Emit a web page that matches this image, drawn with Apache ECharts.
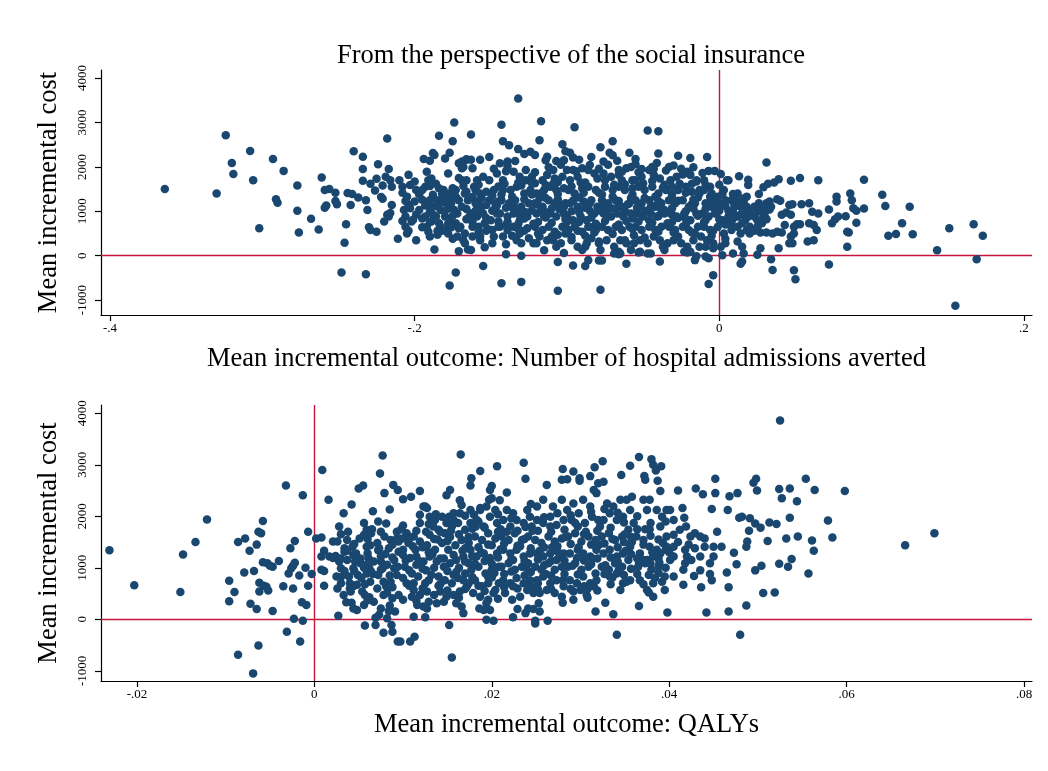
<!DOCTYPE html>
<html>
<head>
<meta charset="utf-8">
<script src="https://cdn.jsdelivr.net/npm/echarts@6/dist/echarts.min.js"></script>
<style>html,body{margin:0;padding:0;background:#fff}#chart{width:1048px;height:771px}</style>
</head>
<body>
<div id="chart"></div>
<script>
// ---- Tick values ----
var topXTicks = [-0.4, -0.2, 0, 0.2];
var costTicks = [-1000, 0, 1000, 2000, 3000, 4000];
var botXTicks = [-0.02, 0, 0.02, 0.04, 0.06, 0.08];

// ---- Texts ----
var titleText = 'From the perspective of the social insurance';
var yName = 'Mean incremental cost';
var topXName = 'Mean incremental outcome: Number of hospital admissions averted';
var botXName = 'Mean incremental outcome: QALYs';

// ---- Top panel: [incremental hospital admissions averted, incremental cost] ----
var topCloud = [
[-.364,1500],[-.330,1400],[-.324,2710],[-.320,2090],[-.319,1840],[-.308,2360],[-.306,1700],[-.302,620],[-.293,2180],[-.291,1270],[-.290,1190],[-.286,1910],[-.277,1580],[-.277,1010],[-.276,520],[-.268,830],[-.263,590],[-.261,1760],[-.259,1480],[-.256,1500],[-.258,1130],[-.259,1080],[-.252,1230],[-.251,1160],[-.252,1420],[-.248,-380],[-.246,290],[-.245,710],[-.244,1410],[-.241,1390],[-.242,1140],[-.240,2350],[-.237,1310],[-.234,2230],[-.234,1950],[-.234,1690],[-.232,-420],[-.232,1250],[-.231,1030],[-.230,640],[-.229,580],[-.229,1620],[-.226,1470],[-.225,1730],[-.224,2060],[-.225,540],[-.222,1320],[-.221,1280],[-.221,1580],[-.220,770],[-.218,920],[-.218,2640],[-.219,1780],[-.217,1950],[-.216,1700],[-.215,1550],[-.215,1140],[-.217,880],[-.216,960],[-.211,380],
[-.132,3540],[-.174,3000],[-.143,2950],[-.117,3030],[-.095,2890],[-.047,2820],[-.040,2800],[-.184,2700],[-.175,2580],[-.163,2730],[-.142,2580],[-.138,2490],[-.118,2600],[-.103,2510],[-.078,2440],[-.070,2580],[-.072,2320],[-.070,2260],[-.059,2320],[-.040,2300],[-.027,2250],[-.019,2200],[-.008,2220],[-.188,2310],[-.187,2270],[-.194,2180],[-.190,2140],[-.180,2190],[-.177,2320],[-.101,2350],[-.098,2320],[-.096,2210],[-.132,2400],[-.128,2290],[-.124,2340],[-.121,2270],[-.114,2150],[-.107,2130],[-.102,2150],[-.084,2220],[-.076,2120],[-.055,2060],[-.157,2160],[-.151,2220],[-.044,2000],[-.043,1960],[-.033,2000],[-.021,1890],[-.024,1830],[-.015,1670],[-.007,1910],[-.003,1910],[.001,1840],[.005,1700],[-.169,2120],[-.166,2170],
[-.177,-670],[-.173,-380],[-.155,-230],[-.143,-620],[-.130,-590],[-.106,-140],[-.106,-790],[-.096,-220],[-.088,-230],[-.086,-100],[-.079,-110],[-.077,-110],[-.078,-770],[-.061,-180],[-.039,-130],[-.016,-100],[-.015,-10],[-.007,-60],[-.004,-440],[-.007,-640],[.002,10],
[-.187,140],[-.171,100],[-.165,140],[-.154,190],[-.140,260],[-.140,30],[-.130,0],[-.115,120],[-.102,60],[-.088,200],[-.066,30],[-.065,50],[-.053,70],[-.047,50],[-.037,200],[-.023,90],[-.021,70],[-.009,-20],
[-.210,1700],[-.208,1550],[-.203,1590],[-.200,1670],[-.205,1330],[-.207,1030],[-.206,880],[-.200,1220],[-.203,1070],[-.197,1030],[-.206,650],[-.205,500],[-.202,770],[-.195,840],[-.193,880],[-.192,650],[-.191,540],[-.190,430],[-.193,1550],[-.191,1700],[-.192,1890],[-.189,1740],[-.188,1370],[-.188,1100],[-.189,770],
[-.185,1250],[-.183,1030],[-.181,1330],[-.179,1180],[-.177,1290],[-.174,1030],[-.172,950],[-.180,880],[-.177,800],[-.173,730],[-.170,650],[-.167,500],[-.172,430],[-.179,580],[-.183,650],[-.185,470],[-.181,1480],[-.173,1480],[-.169,1700],[-.168,2000],[-.171,2080],[-.166,2160],[-.169,1970],[-.166,1700],[-.177,1400],[-.167,1400],[-.184,730],[-.168,350],[-.167,280],[-.178,500],
[-.163,2160],[-.162,1970],[-.159,1700],[-.155,1780],[-.151,1700],[-.146,1850],[-.161,1550],[-.157,1400],[-.153,1440],[-.148,1480],[-.165,1250],[-.160,1180],[-.156,1100],[-.151,1250],[-.147,1180],[-.163,950],[-.159,880],[-.155,950],[-.150,800],[-.146,950],[-.162,650],[-.158,650],[-.154,730],[-.149,580],[-.145,650],[-.157,430],[-.157,350],[-.148,430],[-.163,130],
[-.144,2080],[-.139,2120],[-.135,1890],[-.131,1780],[-.127,1700],[-.123,1780],[-.142,1700],[-.142,1480],[-.137,1480],[-.133,1550],[-.128,1400],[-.124,1480],[-.143,1250],[-.138,1180],[-.134,1250],[-.130,1100],[-.125,1180],[-.144,950],[-.139,880],[-.135,950],[-.131,800],[-.126,880],[-.144,650],[-.139,580],[-.135,650],[-.131,500],[-.126,620],[-.142,430],[-.133,350],[-.130,280],[-.125,390],[-.122,280],
[-.121,1630],[-.116,1700],[-.113,1820],[-.108,1740],[-.103,1780],[-.120,1400],[-.115,1480],[-.111,1550],[-.107,1480],[-.102,1520],[-.121,1180],[-.116,1100],[-.112,1250],[-.108,1180],[-.103,1140],[-.120,950],[-.115,880],[-.111,950],[-.107,880],[-.102,950],[-.121,650],[-.116,580],[-.112,650],[-.108,540],[-.103,650],[-.118,430],[-.113,350],[-.109,350],[-.104,280],[-.120,280],[-.100,1930],[-.109,1930],[-.107,200],[-.101,500],
[-.098,1700],[-.093,1780],[-.090,1970],[-.086,1930],[-.082,1850],[-.080,1740],[-.099,1480],[-.095,1400],[-.090,1520],[-.086,1550],[-.081,1480],[-.098,1180],[-.093,1100],[-.089,1220],[-.085,1180],[-.080,1100],[-.100,880],[-.096,800],[-.091,880],[-.087,800],[-.082,950],[-.099,580],[-.095,650],[-.090,540],[-.086,650],[-.081,580],[-.097,350],[-.093,200],[-.087,280],[-.084,390],[-.079,280],[-.090,130],[-.078,130],[-.096,1930],
[-.076,1850],[-.071,1780],[-.066,1930],[-.061,1970],[-.057,1700],[-.075,1550],[-.070,1480],[-.066,1550],[-.062,1480],[-.057,1520],[-.077,1250],[-.073,1180],[-.068,1250],[-.064,1100],[-.059,1180],[-.076,950],[-.071,880],[-.067,950],[-.063,880],[-.058,950],[-.077,650],[-.073,580],[-.068,650],[-.064,580],[-.059,650],[-.074,350],[-.069,200],[-.065,350],[-.061,280],[-.056,280],[-.066,90],[-.058,130],[-.069,50],
[-.055,1700],[-.051,1780],[-.046,1930],[-.043,1820],[-.039,1740],[-.053,1550],[-.049,1480],[-.044,1550],[-.040,1400],[-.035,1480],[-.055,1250],[-.051,1180],[-.046,1250],[-.042,1100],[-.038,1180],[-.054,950],[-.050,880],[-.045,950],[-.041,880],[-.036,950],[-.055,650],[-.051,580],[-.046,650],[-.042,580],[-.038,650],[-.052,350],[-.047,280],[-.043,430],[-.039,350],[-.034,280],[-.036,130],[-.052,90],[-.045,50],
[-.032,1700],[-.028,1780],[-.023,1850],[-.019,1820],[-.015,1700],[-.031,1550],[-.027,1480],[-.022,1550],[-.018,1440],[-.013,1480],[-.033,1250],[-.029,1180],[-.024,1250],[-.020,1100],[-.016,1180],[-.032,950],[-.028,880],[-.023,950],[-.019,800],[-.015,950],[-.033,650],[-.029,580],[-.024,650],[-.020,580],[-.016,500],[-.030,350],[-.025,280],[-.021,200],[-.017,350],[-.012,430],[-.019,90],[-.013,200],
[-.010,1480],[-.006,1550],[-.001,1330],[.003,1480],[.006,1700],[-.009,1180],[-.005,1100],[.000,1180],[.004,1250],[-.011,950],[-.007,880],[-.003,950],[.002,800],[.006,880],[-.010,650],[-.006,580],[-.001,650],[.003,500],[.006,730],[-.008,350],[-.004,280],[.001,200],[-.009,200],[.004,280],[-.004,170],
[.031,2100],[.013,1790],[.019,1710],[.019,1590],[.029,1540],[.032,1620],[.036,1650],[.039,1720],[.047,1690],[.053,1750],[.065,1700],[.095,1710],[.026,1390],[.009,1390],[.012,1400],[.023,1100],[.016,1220],[.014,1100],[.017,950],[.033,1040],[.038,1270],[.040,1240],[.046,1140],[.048,1160],[.054,1160],[.059,1180],[.044,970],[.041,920],[.047,920],[.029,880],[.031,820],[.028,730],[.025,800],[.020,650],[.018,580],[.023,560],[.027,520],[.031,520],[.035,500],[.038,540],[.041,520],[.043,690],[.049,650],[.051,710],[.053,710],[.049,500],[.047,430],[.048,280],[.046,280],[.059,730],[.062,690],[.064,580],[.061,990],[.065,950],[.058,320],[.062,350],[.039,170],[.027,170],[.025,20],[.016,50],[.014,-180],[.015,-130],[.034,-80],[.035,-320],[.049,-330],[.050,-530],[.072,-200],[.072,1040],[.077,1330],[.077,1220],[.074,730],[.076,820],[.078,880],[.083,890],[.084,540],[.085,520],[.084,200],[.086,1400],[.087,1250],[.088,1070],[.090,1010],[.090,740],[.095,1060],[.107,1370],[.109,1120],[.111,450],[.116,490],[.120,730],[.125,1100],[.127,480],[.143,120],[.151,620],[.155,-1130],[.167,710],[.169,-80],[.173,450],
[.008,1250],[.010,1330],[.013,1220],[.015,1180],[.016,1290],[.018,1100],[.020,990],[.009,840],[.008,730],[.012,650],[.015,730],[.017,800],[.019,880],[.023,880],[.025,990],[.027,1070],[.029,1100],[.031,1180],[.033,1220],[.030,990],[.025,650],[.020,500],[.014,500],[.008,580],[.012,320],[.015,200],[.009,50],[.010,1100],[.012,880],[.009,990]
];
// denser core of the top cloud
var topCore = [
[-.208,1420],[-.208,780],[-.204,1150],[-.204,560],[-.204,1820],[-.199,1480],[-.199,930],[-.199,350],[-.195,1260],[-.195,640],[-.190,1570],[-.190,990],[-.190,760],[-.186,1120],[-.186,880],[-.186,1620],[-.182,1390],[-.182,1210],[-.182,560],[-.178,1060],[-.178,720],[-.178,1850],[-.175,1520],[-.175,900],[-.175,380],[-.171,1250],[-.171,620],[-.171,1750],[-.166,1440],[-.166,1050],[-.166,820],[-.162,1320],[-.162,760],[-.162,430],[-.158,1600],[-.158,1020],[-.158,1230],[-.153,1140],[-.153,850],[-.153,560],[-.149,1350],[-.149,1010],[-.149,280],[-.145,1560],[-.145,1220],[-.145,770],[-.140,1080],[-.140,690],[-.140,1900],[-.136,1330],[-.136,1090],[-.136,450],[-.132,1640],[-.132,1000],[-.132,710],[-.128,1270],[-.128,840],[-.128,560],[-.123,1380],[-.123,1020],[-.123,1630],[-.119,1150],[-.119,760],[-.119,500],[-.114,1590],[-.114,1300],[-.114,980],[-.110,1060],[-.110,740],[-.110,430],[-.106,1390],[-.106,1270],[-.106,1660],[-.101,1180],[-.101,820],[-.101,620],[-.097,1560],[-.097,1000],[-.097,420],[-.092,1310],[-.092,980],[-.092,760],[-.088,1650],[-.088,1080],[-.088,450],[-.084,1250],[-.084,860],[-.084,640],[-.079,1420],[-.079,1020],[-.079,320],[-.075,1130],[-.075,780],[-.075,1700],[-.070,1330],[-.070,1060],[-.070,490],[-.066,1230],[-.066,700],[-.066,1820],[-.062,1610],[-.062,1010],[-.062,350],[-.057,1380],[-.057,840],[-.057,600],[-.053,1090],[-.053,770],[-.053,1880],[-.049,1300],[-.049,1010],[-.049,410],[-.044,1680],[-.044,1120],[-.044,740],[-.040,1230],[-.040,890],[-.040,540],[-.036,1600],[-.036,1030],[-.036,220],[-.031,1380],[-.031,1070],[-.031,760],[-.027,1240],[-.027,850],[-.027,430],[-.022,1420],[-.022,1000],[-.022,700],[-.018,1620],[-.018,1160],[-.018,520],[-.014,1310],[-.014,900],[-.014,650],[-.009,1050],[-.009,800],[-.009,1600],[-.005,1400],[-.005,1230],[-.005,450],[.000,1010],[.000,820],[.000,1600],[.004,1120],[.004,700],[.004,380],
[-.148,1960],[-.139,2010],[-.127,1930],[-.121,1880],[-.112,1990],[-.104,2050],[-.094,1900],[-.085,2040],[-.079,1960],[-.073,2050],[-.064,1890],[-.058,2000],[-.051,1950],[-.041,2090],[-.035,1920],[-.030,2030],[-.025,1960],[-.017,1990],[-.011,1860],[-.092,2160],[-.067,2140],[-.113,2230],[-.134,2130],[-.055,2180]
];
var topCore2 = [
[-.206,1230],[-.201,810],[-.197,1380],[-.193,1130],[-.188,930],[-.184,1520],[-.180,1020],[-.176,640],[-.173,1330],[-.169,1100],[-.164,880],[-.160,1480],[-.156,1300],[-.152,600],[-.147,1080],[-.143,1380],[-.139,760],[-.135,1150],[-.130,1580],[-.127,980],[-.122,720],[-.118,1300],[-.114,860],[-.109,1620],[-.105,1050],[-.100,760],[-.096,1240],[-.093,560],[-.089,1420],[-.085,1010],[-.081,720],[-.077,1380],[-.073,880],[-.069,1600],[-.066,1120],[-.061,780],[-.058,1300],[-.054,1080],[-.050,1630],[-.046,800],[-.042,1330],[-.038,1020],[-.034,730],[-.030,1240],[-.026,1620],[-.022,830],[-.017,1060],[-.013,1400],[-.010,760],[-.006,1330],[-.002,1040],[.002,1380],[.006,1010],[.010,1160],[.014,930],[.018,1330],[.022,1000],[.026,1180],[.030,870],[.034,1100],
[-.190,1250],[-.176,1180],[-.160,1010],[-.146,1130],[-.131,930],[-.117,1020],[-.102,1100],[-.088,1170],[-.074,1000],[-.060,1160],[-.045,1100],[-.031,930],[-.017,1260],[-.003,1150],
[-.195,1480],[-.168,1570],[-.141,1620],[-.116,1430],[-.091,1650],[-.064,1700],[-.037,1530],[-.010,1700],
[-.185,560],[-.158,540],[-.132,600],[-.106,470],[-.082,520],[-.056,460],[-.030,520],[-.004,560]
];

// ---- Bottom panel: [incremental QALYs, incremental cost] ----
var bottomCloud = [
[-.0231,1340],[-.0203,660],[-.0151,530],[-.0148,1260],[-.0134,1500],[-.0121,1940],[-.0096,750],[-.0096,350],[-.0090,530],[-.0086,1500],[-.0086,-690],[-.0079,910],[-.0078,1570],[-.0073,1330],[-.0072,300],[-.0069,-1050],[-.0068,940],[-.0065,1450],[-.0065,200],[-.0063,-510],[-.0063,1700],[-.0060,1670],[-.0062,710],[-.0062,540],[-.0058,1910],[-.0058,1110],[-.0053,1090],[-.0050,1040],[-.0057,650],[-.0054,630],[-.0052,560],[-.0047,160],[-.0047,1020],[-.0040,1130],[-.0035,640],[-.0032,2600],[-.0031,-240],[-.0029,890],[-.0026,990],[-.0027,1380],[-.0024,600],[-.0023,10],[-.0022,1520],[-.0022,1100],[-.0024,1040],[-.0017,850],[-.0016,-430],[-.0014,330],[-.0009,280],[-.0013,-30],[-.0013,2410],[-.0010,1000],[-.0007,650],[-.0007,1700],[-.0003,880],[.0002,1570],[.0008,1590],[.0009,2900],[.0008,1220],[.0011,1330],[.0008,960],[.0011,940],[.0011,650],[.0016,2320],[.0017,1220],[.0021,1190],[.0021,1510],[.0024,1230],[.0025,830],[.0027,70],[.0028,1800],[.0030,700],[.0033,2060],[.0030,990],[.0034,940],[.0034,1380],[.0037,1540],[.0038,1700],[.0039,830],[.0040,700],[.0040,600],[.0036,330],[.0042,320],[.0042,2230],[.0044,1250],[.0047,1280],[.0046,1120],[.0048,180],[.0049,860],[.0053,800],[.0050,2540],[.0055,2600],[.0056,1870],[.0057,470],[.0057,680],[.0057,-120],[.0059,1410],[.0063,1440],[.0061,1190],[.0059,1740],[.0065,1750],[.0062,430],[.0066,2100],[.0069,30],[.0073,90],[.0069,-110],[.0075,1700],[.0077,3180],[.0074,2830],[.0079,2450],[.0078,-260],[.0081,1860],[.0085,2130],[.0087,-110],[.0088,-240],[.0089,2610],[.0094,2510],[.0094,-430],
[.0062,990],[.0059,890],[.0064,930],[.0073,1380],[.0075,1220],[.0075,1120],[.0077,990],[.0078,730],[.0081,640],[.0082,510],[.0085,270],[.0084,160],[.0093,1570],[.0095,1510],
[.0026,1510],[.0034,1310],[.0043,1410],[.0051,1570],[.0056,1640],[.0064,1670],[.0071,1480],[.0079,1610],[.0086,1540],[.0093,1700],[.0028,1120],[.0037,1150],[.0044,990],[.0052,1090],[.0059,1060],[.0067,1120],[.0075,960],[.0082,1060],[.0090,1150],[.0095,1310],[.0026,600],[.0033,470],[.0041,540],[.0048,670],[.0054,540],[.0063,730],[.0071,600],[.0078,470],[.0086,730],[.0093,860],[.0044,210],[.0056,280],[.0067,340],[.0075,210],[.0088,410],[.0091,150],[.0082,20],[.0095,470],[.0090,990],[.0084,1380],
[.0165,3200],[.0236,3040],[.0238,2730],[.0206,2970],[.0187,2880],[.0177,2740],[.0176,2600],[.0149,2410],[.0153,2510],[.0119,2490],[.0109,2380],[.0100,2330],[.0280,2920],[.0292,2870],[.0279,2710],[.0285,2720],[.0299,2740],[.0299,2690],[.0311,2780],[.0316,2950],[.0325,3070],[.0262,2610],[.0320,2640],[.0326,2670],[.0346,2800],[.0356,2980],[.0366,3150],[.0372,2780],[.0373,2710],[.0380,3110],[.0382,3000],[.0385,2890],[.0391,2970],[.0387,2690],[.0390,2490],[.0410,2500],[.0430,2540],[.0438,2430],[.0452,2730],[.0452,2450],[.0448,2140],[.0217,2460],[.0200,2590],[.0198,2510],[.0164,2310],[.0166,2220],[.0197,2320],[.0200,2350],[.0209,2310],[.0187,2160],[.0176,2120],[.0180,2030],[.0123,2190],[.0127,2160],[.0119,2030],[.0137,2040],[.0152,1990],[.0153,1930],
[.0152,-110],[.0155,-740],[.0341,-300],[.0097,-430],[.0108,-430],[.0113,-340],[.0112,50],[.0125,40],[.0127,210],[.0116,280],[.0168,120],[.0194,-10],[.0202,-30],[.0186,210],[.0191,180],[.0198,180],[.0196,380],[.0224,40],[.0229,200],[.0238,120],[.0241,210],[.0247,200],[.0249,-30],[.0249,-80],[.0254,150],[.0263,-30],[.0253,310],[.0280,320],[.0292,380],[.0308,420],[.0317,150],[.0328,320],[.0337,100],[.0366,260],[.0398,130],[.0442,130],[.0377,520],[.0382,440],[.0395,570],[.0416,670],[.0436,620],[.0428,840],[.0435,950],[.0446,880],[.0448,760],
[.0099,1570],[.0104,1670],[.0112,1610],[.0119,1510],[.0127,1440],[.0130,1640],[.0100,1350],[.0108,1190],[.0115,1220],[.0123,1120],[.0130,1220],[.0102,1020],[.0110,890],[.0117,830],[.0125,700],[.0132,860],[.0104,700],[.0112,570],[.0119,470],[.0127,540],[.0100,380],[.0110,440],[.0123,250],[.0129,340],[.0119,1870],[.0125,2190],[.0130,1990],[.0134,1800],[.0114,1350],[.0106,1480],
[.0136,1350],[.0144,1480],[.0151,1350],[.0159,1440],[.0166,1540],[.0138,1120],[.0146,1020],[.0153,1090],[.0160,1150],[.0168,1220],[.0140,830],[.0147,760],[.0155,700],[.0162,800],[.0170,890],[.0142,540],[.0149,440],[.0157,470],[.0164,540],[.0172,640],[.0138,310],[.0146,340],[.0160,310],[.0166,250],[.0140,1740],[.0147,1670],[.0155,1800],[.0162,1870],[.0170,1740],[.0157,2060],[.0164,2060],[.0149,1870],[.0136,1930],[.0144,1990],
[.0174,1480],[.0181,1610],[.0189,1540],[.0196,1670],[.0204,1570],[.0176,1350],[.0183,1220],[.0191,1280],[.0198,1190],[.0206,1280],[.0177,960],[.0185,1020],[.0193,890],[.0200,960],[.0208,1020],[.0174,700],[.0181,760],[.0189,640],[.0196,700],[.0204,570],[.0179,510],[.0187,440],[.0194,310],[.0202,510],[.0176,1870],[.0183,1930],[.0191,1800],[.0198,1990],[.0206,1870],[.0187,2120],[.0194,2190],[.0204,2120],[.0208,700],[.0174,1090],
[.0211,1610],[.0219,1540],[.0226,1670],[.0234,1540],[.0241,1610],[.0213,1350],[.0221,1280],[.0228,1350],[.0236,1220],[.0243,1280],[.0211,1020],[.0219,1090],[.0226,960],[.0234,1020],[.0241,1090],[.0213,760],[.0221,700],[.0228,800],[.0236,700],[.0243,760],[.0215,510],[.0223,380],[.0232,440],[.0240,570],[.0247,510],[.0213,1930],[.0221,1800],[.0228,1930],[.0236,1870],[.0243,1990],[.0224,2060],[.0240,2120],[.0245,1800],[.0217,2120],
[.0249,1540],[.0256,1480],[.0264,1610],[.0271,1510],[.0279,1570],[.0251,1280],[.0258,1220],[.0266,1280],[.0273,1150],[.0281,1280],[.0249,1020],[.0256,960],[.0264,1090],[.0271,960],[.0279,1020],[.0251,760],[.0258,830],[.0266,700],[.0273,760],[.0281,640],[.0254,510],[.0262,570],[.0271,510],[.0279,440],[.0251,1930],[.0258,1870],[.0266,1990],[.0273,1830],[.0281,1930],[.0251,2190],[.0258,2320],[.0269,2190],[.0279,2320],[.0285,2120],
[.0286,1610],[.0294,1670],[.0301,1510],[.0309,1610],[.0317,1540],[.0288,1280],[.0296,1190],[.0303,1280],[.0311,1220],[.0318,1350],[.0286,1020],[.0294,1090],[.0301,960],[.0309,1020],[.0317,890],[.0288,760],[.0296,700],[.0303,830],[.0311,700],[.0318,760],[.0292,540],[.0300,570],[.0307,470],[.0315,640],[.0290,1930],[.0298,2060],[.0305,1870],[.0313,1990],[.0320,1930],[.0292,2250],[.0303,2320],[.0311,2190],[.0318,2450],[.0315,2510],
[.0324,1610],[.0332,1670],[.0339,1540],[.0347,1610],[.0354,1740],[.0326,1280],[.0333,1350],[.0341,1220],[.0348,1280],[.0356,1410],[.0324,1020],[.0332,960],[.0339,1090],[.0347,1020],[.0354,1150],[.0333,830],[.0341,890],[.0348,700],[.0356,760],[.0345,570],[.0352,730],[.0326,1930],[.0333,2060],[.0341,1930],[.0348,1990],[.0356,2120],[.0330,2250],[.0337,2190],[.0345,2320],[.0352,2320],[.0358,2380],[.0360,1870],
[.0363,1610],[.0371,1540],[.0378,1410],[.0386,1350],[.0393,1480],[.0367,1280],[.0375,1150],[.0382,1220],[.0390,1280],[.0365,1020],[.0373,1090],[.0380,960],[.0388,1020],[.0395,830],[.0367,760],[.0375,570],[.0382,700],[.0392,730],[.0375,2120],[.0378,2320],[.0371,2320],[.0386,2120],[.0392,1990],[.0390,1800],[.0397,2120],[.0377,860],[.0384,800],
[.0401,2120],[.0405,1930],[.0415,2160],[.0417,1970],[.0419,1800],[.0397,1610],[.0405,1640],[.0412,1740],[.0424,1610],[.0429,1670],[.0435,1610],[.0440,1570],[.0454,1700],[.0397,1410],[.0405,1410],[.0418,1350],[.0420,1220],[.0429,1380],[.0440,1410],[.0450,1410],[.0401,1150],[.0405,1220],[.0418,1090],[.0425,1150],[.0435,1220],[.0446,1090],[.0450,1220],[.0405,830],[.0416,960],
[.0525,3860],[.0495,2650],[.0498,2730],[.0499,2500],[.0468,2390],[.0477,2450],[.0524,2530],[.0536,2540],[.0527,2350],[.0544,2290],[.0554,2730],[.0564,2510],[.0598,2490],[.0466,2120],[.0479,1970],[.0482,1990],[.0491,1960],[.0497,1860],[.0503,1780],[.0513,1880],[.0521,1850],[.0536,1970],[.0579,1920],[.0490,1720],[.0488,1510],[.0487,1410],[.0511,1520],[.0532,1570],[.0545,1610],[.0561,1530],[.0563,1330],[.0584,1590],[.0666,1440],[.0699,1670],[.0473,1290],[.0476,1070],[.0465,910],[.0467,620],[.0467,150],[.0487,270],[.0480,-300],[.0497,950],[.0504,1040],[.0506,510],[.0519,520],[.0524,1080],[.0534,1020],[.0538,1170],[.0557,890],[.0459,1410]
];
// denser core of the bottom cloud
var bottomCore = [
[.0030,1650],[.0030,1180],[.0030,820],[.0045,1460],[.0045,940],[.0045,650],[.0060,1560],[.0060,1280],[.0060,370],[.0072,1340],[.0072,860],[.0072,1900],[.0088,1450],[.0088,1200],[.0088,620],[.0100,1820],[.0100,1250],[.0100,800],[.0107,1560],[.0107,950],[.0107,650],[.0115,1720],[.0115,1060],[.0115,360],[.0122,1400],[.0122,980],[.0122,600],[.0129,1850],[.0129,1300],[.0129,760],[.0135,1560],[.0135,1000],[.0135,470],[.0142,1700],[.0142,1180],[.0142,680],[.0150,1520],[.0150,940],[.0150,560],[.0157,1930],[.0157,1250],[.0157,860],[.0163,1650],[.0163,1000],[.0163,420],[.0170,2010],[.0170,1380],[.0170,1120],[.0170,590],[.0178,1760],[.0178,1230],[.0178,820],[.0185,1900],[.0185,1400],[.0185,650],[.0192,1780],[.0192,1130],[.0192,550],[.0200,1440],[.0200,1080],[.0200,810],[.0207,2040],[.0207,1700],[.0207,1200],[.0207,400],[.0214,1470],[.0214,880],[.0214,620],[.0222,1960],[.0222,1160],[.0222,930],[.0229,1720],[.0229,1430],[.0229,600],[.0237,1560],[.0237,1130],[.0237,850],[.0244,2240],[.0244,1380],[.0244,920],[.0244,640],[.0252,1720],[.0252,1160],[.0252,590],[.0259,1980],[.0259,1400],[.0259,1050],[.0267,1700],[.0267,1130],[.0267,850],[.0267,590],[.0274,2060],[.0274,1420],[.0274,1320],[.0282,1740],[.0282,1140],[.0282,880],[.0289,2020],[.0289,1460],[.0289,590],[.0297,1800],[.0297,1350],[.0297,870],[.0304,1650],[.0304,1140],[.0304,640],[.0312,2090],[.0312,1450],[.0312,1070],[.0319,1720],[.0319,1180],[.0319,560],[.0327,2140],[.0327,1470],[.0327,880],[.0334,1780],[.0334,1200],[.0334,680],[.0342,2070],[.0342,1400],[.0342,1120],[.0349,1880],[.0349,1500],[.0349,860],[.0357,1600],[.0357,1270],[.0357,980],[.0364,2000],[.0364,1750],[.0364,1180],[.0371,1450],[.0371,1150],[.0371,680],[.0379,1870],[.0379,1620],[.0379,1080],[.0388,1550],[.0388,1180],[.0388,900],[.0396,1900],[.0396,1350],[.0396,1000]
];
var bottomCore2 = [
[.0037,1330],[.0052,1180],[.0066,880],[.0080,1270],[.0094,1020],[.0103,1140],[.0111,1420],[.0118,1130],[.0126,950],[.0133,1260],[.0139,1550],[.0146,1180],[.0153,1600],[.0160,920],[.0167,1330],[.0174,1600],[.0181,1080],[.0188,1300],[.0196,1450],[.0203,900],[.0210,1360],[.0217,1700],[.0224,1150],[.0232,1420],[.0239,1000],[.0246,1720],[.0254,1330],[.0261,880],[.0268,1400],[.0276,1200],[.0283,1600],[.0291,1040],[.0298,1400],[.0306,1700],[.0313,1180],[.0321,1450],[.0328,1050],[.0336,1560],[.0343,950],[.0351,1330],[.0358,1500],[.0366,1100],[.0373,1750],[.0381,1300],[.0389,1100],[.0400,1300],[.0410,1500],[.0422,1450],
[.0056,1000],[.0085,850],[.0112,700],[.0140,650],[.0168,760],[.0196,820],[.0224,640],[.0252,700],[.0280,760],[.0308,590],[.0336,810],[.0364,880],
[.0098,1750],[.0126,1700],[.0154,1720],[.0182,1800],[.0210,1750],[.0238,1790],[.0266,1800],[.0294,1870],[.0322,1800],[.0350,1650],[.0378,1750]
];

var DOT = '#1a476f';
var RED = '#c8143c';
var SERIF = '"Liberation Serif", "Times New Roman", serif';

function xFmt(v) {
  if (Math.abs(v) < 1e-12) return '0';
  var s = String(+v.toFixed(4));
  return s.replace(/^(-?)0\./, '$1.');
}
function yFmt(v) { return String(Math.round(v)); }

function xAxisCfg(gridIndex, min, max, ticks, name) {
  return {
    type: 'value', gridIndex: gridIndex, min: min, max: max,
    name: name, nameLocation: 'middle', nameGap: 31,
    nameTextStyle: { fontFamily: SERIF, fontSize: 26.5, color: '#000' },
    axisLine: { show: true, onZero: false, lineStyle: { color: '#000', width: 1.2 } },
    axisTick: { show: true, length: 6, customValues: ticks, lineStyle: { color: '#000', width: 1.2 } },
    axisLabel: { show: true, customValues: ticks, formatter: xFmt, margin: 7,
      fontFamily: SERIF, fontSize: 13, color: '#000' },
    splitLine: { show: false }
  };
}
function yAxisCfg(gridIndex, min, max, ticks, name) {
  return {
    type: 'value', gridIndex: gridIndex, min: min, max: max,
    name: name, nameLocation: 'middle', nameGap: 38, nameRotate: 90,
    nameTextStyle: { fontFamily: SERIF, fontSize: 26.5, color: '#000' },
    axisLine: { show: true, onZero: false, lineStyle: { color: '#000', width: 1.2 } },
    axisTick: { show: true, length: 6, customValues: ticks, lineStyle: { color: '#000', width: 1.2 } },
    axisLabel: { show: true, customValues: ticks, formatter: yFmt, rotate: 90, margin: 12,
      fontFamily: SERIF, fontSize: 13, color: '#000' },
    splitLine: { show: false }
  };
}
function refLineSeries(idx) {
  return {
    type: 'scatter', xAxisIndex: idx, yAxisIndex: idx, data: [], z: 1,
    markLine: {
      z: 1, silent: true, symbol: ['none', 'none'], animation: false,
      label: { show: false },
      lineStyle: { color: RED, width: 1.4, type: 'solid', opacity: 1 },
      emphasis: { disabled: true },
      data: [
        { yAxis: 0, lineStyle: { color: RED } },
        { xAxis: 0, lineStyle: { color: RED } }
      ]
    }
  };
}
function dotSeries(idx, data) {
  return {
    type: 'scatter', xAxisIndex: idx, yAxisIndex: idx, data: data, z: 3,
    symbol: 'circle', symbolSize: 8.5,
    itemStyle: { color: DOT, opacity: 1 },
    emphasis: { disabled: true }
  };
}

var chart = echarts.init(document.getElementById('chart'), null, { renderer: 'canvas' });
chart.setOption({
  animation: false,
  backgroundColor: '#fff',
  title: {
    text: titleText, left: 566, top: 38, textAlign: 'center',
    textStyle: { fontFamily: SERIF, fontSize: 26.5, fontWeight: 'normal', color: '#000' }
  },
  grid: [
    { left: 101, right: 16, top: 70, height: 245 },
    { left: 101, right: 16, top: 405, height: 276 }
  ],
  xAxis: [
    xAxisCfg(0, -0.4059, 0.2053, topXTicks, topXName),
    xAxisCfg(1, -0.02405, 0.0809, botXTicks, botXName)
  ],
  yAxis: [
    yAxisCfg(0, -1336, 4182, costTicks, yName),
    yAxisCfg(1, -1198, 4161, costTicks, yName)
  ],
  series: [
    refLineSeries(0), dotSeries(0, topCloud), dotSeries(0, topCore), dotSeries(0, topCore2),
    refLineSeries(1), dotSeries(1, bottomCloud), dotSeries(1, bottomCore), dotSeries(1, bottomCore2)
  ]
});
</script>
</body>
</html>
